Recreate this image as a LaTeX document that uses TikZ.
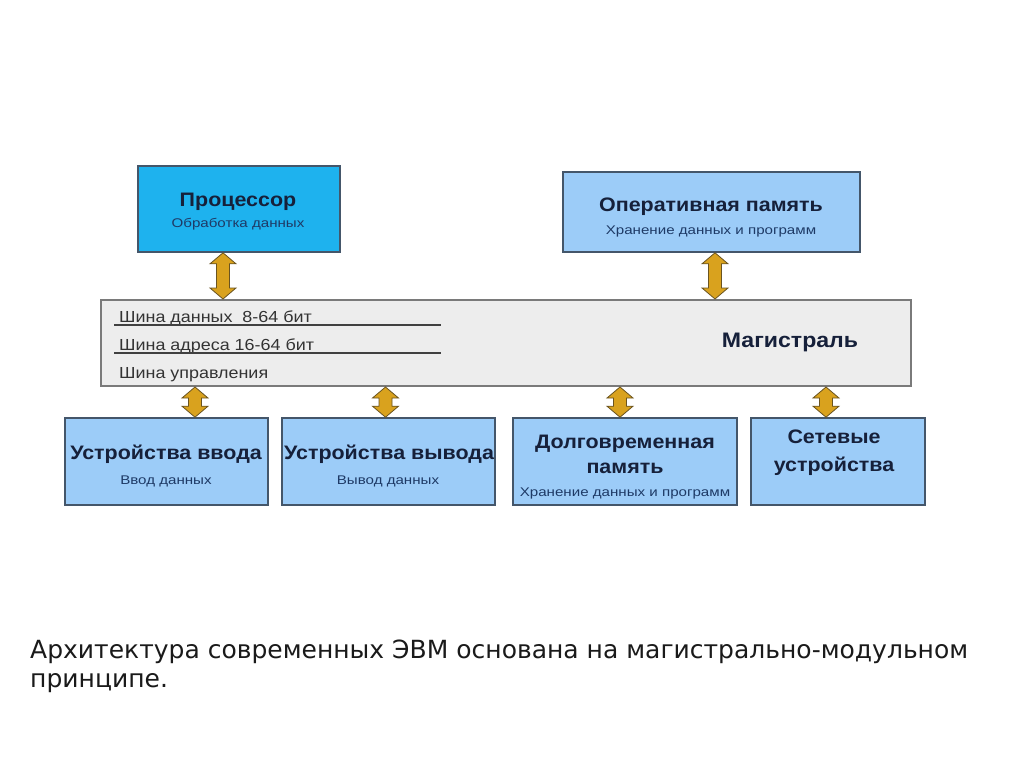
\documentclass[tikz,border=0pt]{standalone}
\usepackage{fontspec}
\setmainfont{Liberation Sans}
\newfontfamily\ttlfont[FakeStretch=1.1]{Liberation Sans}
\newfontfamily\sbtfont[FakeStretch=1.2]{Liberation Sans}
\newfontfamily\busfont[FakeStretch=1.12]{Liberation Sans}
\newfontfamily\capfont{DejaVu Sans}
\usetikzlibrary{calc}
\definecolor{procfill}{HTML}{1EB2EE}
\definecolor{boxfill}{HTML}{9CCCF8}
\definecolor{boxline}{HTML}{44566A}
\definecolor{busfill}{HTML}{EDEDED}
\definecolor{busline}{HTML}{7A7A7A}
\definecolor{titlecol}{HTML}{16203A}
\definecolor{subcol}{HTML}{1E3A66}
\definecolor{goldfill}{HTML}{D9A21E}
\definecolor{goldline}{HTML}{6A5420}
\definecolor{captioncol}{HTML}{1A1A1A}
\tikzset{
  blockbox/.style={draw=boxline, line width=1.6pt, fill=boxfill, inner sep=0pt},
  procbox/.style={blockbox, fill=procfill},
  busbox/.style={draw=busline, line width=2pt, fill=busfill, inner sep=0pt},
  ttltext/.style={anchor=base, inner sep=0pt, text=titlecol, font=\ttlfont\bfseries\fontsize{19.5}{23}\selectfont},
  sbttext/.style={anchor=base, inner sep=0pt, text=subcol, font=\sbtfont\fontsize{12.6}{15}\selectfont},
  dblarrow/.style={draw=goldline, line width=0.8pt, fill=goldfill, line join=miter},
  busrow/.style={anchor=base west, inner sep=0pt, font=\busfont\fontsize{16}{19}\selectfont, text=black!80},
  busrule/.style={draw=black!75, line width=1.4pt},
  magtext/.style={anchor=base, inner sep=0pt, text=titlecol, font=\ttlfont\bfseries\fontsize{21}{25}\selectfont},
  captiontext/.style={anchor=base west, inner sep=0pt, font=\capfont\fontsize{25}{30}\selectfont, text=captioncol}
}
\newcommand\dbl[2]{%
  \draw[dblarrow] let \p1=(#1), \p2=(#2) in
    (\x1,\y1) -- (\x1+13pt,\y1-11pt) -- (\x1+6.5pt,\y1-11pt) -- (\x1+6.5pt,\y2+11pt)
    -- (\x1+13pt,\y2+11pt) -- (\x1,\y2) -- (\x1-13pt,\y2+11pt) -- (\x1-6.5pt,\y2+11pt)
    -- (\x1-6.5pt,\y1-11pt) -- (\x1-13pt,\y1-11pt) -- cycle;}
\begin{document}
\begin{tikzpicture}[x=1pt,y=-1pt]
\useasboundingbox[fill=white] (0,0) rectangle (1024,767);

% top blocks
\node[procbox, minimum width=202pt, minimum height=86pt] (proc) at (239,209) {};
\node[ttltext] (procT) at (238,207) {Процессор};
\node[sbttext] (procS) at (238,228) {Обработка данных};
\node[blockbox, minimum width=297pt, minimum height=80pt] (ram) at (711.5,212) {};
\node[ttltext] (ramT) at (711,212) {Оперативная память};
\node[sbttext] (ramS) at (711,235) {Хранение данных и программ};

% bus
\node[busbox, minimum width=810pt, minimum height=86pt] (bus) at (506,343) {};
\node[busrow] (r1) at (119,322) {Шина данных\ \ 8-64 бит};
\node[busrow] (r2) at (119,350) {Шина адреса 16-64 бит};
\node[busrow] (r3) at (119,378) {Шина управления};
\coordinate (u1a) at (114,325); \coordinate (u1b) at (441,325);
\coordinate (u2a) at (114,353); \coordinate (u2b) at (441,353);
\draw[busrule] (u1a) -- (u1b);
\draw[busrule] (u2a) -- (u2b);
\node[magtext] (mag) at (790,347) {Магистраль};

% bottom blocks
\node[blockbox, minimum width=203pt, minimum height=87pt] (in) at (166.5,461.5) {};
\node[ttltext] (inT) at (166,459) {Устройства ввода};
\node[sbttext] (inS) at (166,484) {Ввод данных};
\node[blockbox, minimum width=213pt, minimum height=87pt] (out) at (388.5,461.5) {};
\node[ttltext] (outT) at (389,459) {Устройства вывода};
\node[sbttext] (outS) at (388,484) {Вывод данных};
\node[blockbox, minimum width=224pt, minimum height=87pt] (ltm) at (625,461.5) {};
\node[ttltext] (ltmT1) at (625,448) {Долговременная};
\node[ttltext] (ltmT2) at (625,473) {память};
\node[sbttext] (ltmS) at (625,496) {Хранение данных и программ};
\node[blockbox, minimum width=174pt, minimum height=87pt] (net) at (838,461.5) {};
\node[ttltext] (netT1) at (834,443) {Сетевые};
\node[ttltext] (netT2) at (834,471) {устройства};

% arrows
\coordinate (a1t) at ($(proc.south)+(-16,0)$);
\coordinate (a1b) at (a1t |- bus.north);
\dbl{a1t}{a1b}
\coordinate (a2t) at ($(ram.south)+(3.5,0)$);
\coordinate (a2b) at (a2t |- bus.north);
\dbl{a2t}{a2b}
\coordinate (b1b) at ($(in.north)+(28.5,0)$);
\coordinate (b1t) at (b1b |- bus.south);
\dbl{b1t}{b1b}
\coordinate (b2b) at ($(out.north)+(-3,0)$);
\coordinate (b2t) at (b2b |- bus.south);
\dbl{b2t}{b2b}
\coordinate (b3b) at ($(ltm.north)+(-5,0)$);
\coordinate (b3t) at (b3b |- bus.south);
\dbl{b3t}{b3b}
\coordinate (b4b) at ($(net.north)+(-12,0)$);
\coordinate (b4t) at (b4b |- bus.south);
\dbl{b4t}{b4b}

% caption
\node[captiontext] (cap1) at (30,658) {Архитектура современных ЭВМ основана на магистрально-модульном};
\node[captiontext] (cap2) at (30,687) {принципе.};
\end{tikzpicture}
\end{document}
